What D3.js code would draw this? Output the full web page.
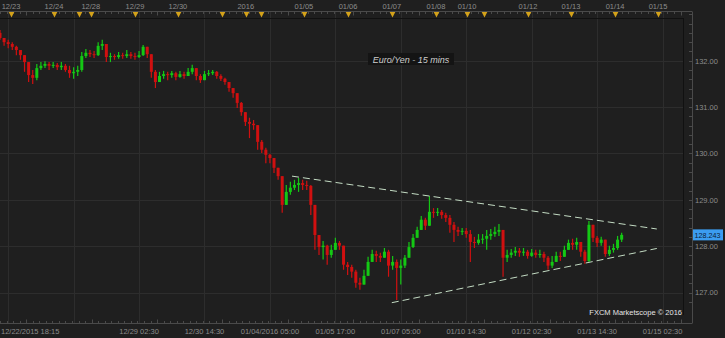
<!DOCTYPE html>
<html>
<head>
<meta charset="utf-8">
<script src="https://cdn.jsdelivr.net/npm/d3@7"></script>
<style>
  html, body { margin: 0; padding: 0; background: #1f1f1f; }
  svg { display: block; font-family: "Liberation Sans", Arial, sans-serif; }
</style>
</head>
<body>
<svg id="chart" width="725" height="338"></svg>
<script>
// EUR/JPY 15 min, aggregated into slots (one candle per slot)
const firstOpen = 132.6;
const closes = [
  132.49,132.40,132.36,132.30,132.23,132.12,131.97,131.69,131.63,131.84,
  131.89,131.93,131.89,131.91,131.86,131.89,131.80,131.73,131.76,131.80,
  132.10,132.17,132.14,132.12,132.32,132.36,132.08,132.10,132.08,132.12,
  132.10,132.14,132.10,132.08,132.12,132.30,132.14,131.76,131.54,131.67,
  131.71,131.69,131.73,131.65,131.71,131.67,131.76,131.84,131.67,131.58,
  131.71,131.73,131.76,131.67,131.61,131.54,131.41,131.30,131.09,130.89,
  130.68,130.64,130.61,130.25,130.08,129.97,129.90,129.69,129.51,128.89,
  129.17,129.26,129.32,129.36,129.32,129.30,128.89,128.24,127.98,128.01,
  127.81,127.92,128.07,128.01,127.60,127.55,127.45,127.21,127.17,127.36,
  127.66,127.83,127.79,127.75,127.88,127.58,127.66,127.53,127.58,127.75,
  127.98,128.18,128.35,128.57,128.44,128.74,128.72,128.74,128.67,128.61,
  128.46,128.35,128.31,128.33,128.26,128.09,128.07,128.14,128.16,128.22,
  128.26,128.31,128.35,127.75,127.81,127.86,127.90,127.86,127.88,127.79,
  127.86,127.81,127.83,127.75,127.58,127.66,127.79,127.77,127.92,128.07,
  128.03,128.09,127.88,127.68,128.46,128.18,128.07,128.14,127.83,127.92,
  127.96,128.14,128.243
];
const highs = [
  132.66,132.49,132.45,132.40,132.32,132.23,132.12,131.91,131.80,131.93,
  131.97,131.99,131.97,131.97,131.95,131.97,131.93,131.89,131.86,131.89,
  132.19,132.25,132.23,132.21,132.40,132.45,132.36,132.17,132.14,132.19,
  132.17,132.23,132.19,132.17,132.21,132.34,132.27,132.14,131.80,131.76,
  131.78,131.76,131.78,131.76,131.78,131.76,131.84,131.91,131.84,131.71,
  131.78,131.80,131.80,131.78,131.71,131.63,131.54,131.41,131.30,131.11,
  130.89,130.77,130.72,130.61,130.29,130.12,129.99,129.90,129.69,129.51,
  129.32,129.39,129.43,129.47,129.43,129.41,129.32,128.89,128.18,128.11,
  128.03,128.03,128.18,128.11,128.01,127.66,127.60,127.49,127.32,127.49,
  127.77,127.92,127.90,127.86,127.96,127.92,127.79,127.71,127.71,127.81,
  128.09,128.26,128.42,128.65,128.61,129.08,128.82,128.82,128.78,128.72,
  128.67,128.52,128.42,128.39,128.39,128.35,128.20,128.26,128.26,128.35,
  128.37,128.42,128.48,128.31,127.92,127.94,127.98,127.96,127.96,127.92,
  127.94,127.92,127.92,127.88,127.79,127.79,127.88,127.88,128.01,128.14,
  128.16,128.18,128.09,127.92,128.54,128.46,128.22,128.20,128.14,128.01,
  128.05,128.22,128.29
];
const lows = [
  132.45,132.32,132.27,132.23,132.12,132.02,131.76,131.54,131.50,131.58,
  131.80,131.84,131.80,131.84,131.80,131.80,131.76,131.63,131.61,131.67,
  131.76,132.06,132.08,132.06,132.10,132.23,131.97,131.97,132.02,132.04,
  132.04,132.06,132.04,132.02,132.06,132.10,132.06,131.63,131.41,131.54,
  131.61,131.58,131.63,131.58,131.63,131.61,131.67,131.71,131.58,131.52,
  131.58,131.67,131.69,131.61,131.56,131.48,131.33,131.20,130.98,130.81,
  130.59,130.33,130.51,130.08,130.01,129.79,129.79,129.58,129.43,128.72,
  128.93,129.11,129.21,129.17,129.21,129.21,128.67,127.92,127.81,127.71,
  127.60,127.75,127.96,127.92,127.49,127.38,127.32,127.10,127.06,127.19,
  127.38,127.66,127.66,127.66,127.77,127.34,127.49,126.84,127.17,127.53,
  127.75,127.96,128.18,128.35,128.35,128.44,128.61,128.65,128.59,128.52,
  128.29,128.09,128.22,128.24,128.18,127.66,127.96,128.03,128.05,127.92,
  128.14,128.20,128.22,127.34,127.66,127.75,127.79,127.77,127.79,127.73,
  127.77,127.75,127.75,127.66,127.49,127.53,127.66,127.68,127.79,127.92,
  127.92,127.92,127.77,127.62,127.66,128.09,127.98,128.01,127.77,127.79,
  127.86,127.92,128.09
];
const lastPrice = 128.243;

const priceTicks = [127, 128, 129, 130, 131, 132];
const gridSlots = [2, 18, 34, 50, 66, 82, 98, 114, 130, 146, 162];
const gridLabels = ["", "", "12/29 02:30", "12/30 14:30", "01/04/2016 05:00", "01/05 17:00",
  "01/07 05:00", "01/10 14:30", "01/12 02:30", "01/13 14:30", "01/15 02:30"];
const startLabel = "12/22/2015 18:15";
const daySlots = [2.7, 13.2, 19.3, 22.2, 33.0, 43.5, 54.3, 60.1, 63.8, 74.3, 85.1, 95.8,
  106.6, 114.2, 118.3, 129.1, 139.6, 150.4, 160.9];
const dayLabels = ["12/23", "12/24", "", "12/28", "12/29", "12/30", "", "2016", "", "01/05",
  "01/06", "01/07", "01/08", "01/10", "", "01/12", "01/13", "01/14", "01/15"];

// trend lines (slot, price)
const upperSlots = [71.4, 160.6], upperPrices = [129.51, 128.37];
const lowerSlots = [95.8, 160.6], lowerPrices = [126.78, 127.95];

const W = 725, H = 338;
const plot = { left: 0, right: 683, top: 18, bottom: 315 };
const axisX = 692, topLine = 11.5, bottomLine = 323.5;

const svg = d3.select("#chart");
const x = d3.scaleLinear().domain([0, 167]).range([plot.left, plot.right]);
const y = d3.scaleLinear().domain([127, 132]).range([292.5, 60.7]);

svg.append("rect").attr("width", W).attr("height", H).attr("fill", "#1f1f1f");

svg.append("defs").append("clipPath").attr("id", "plotclip")
  .append("rect").attr("x", plot.left).attr("y", plot.top)
  .attr("width", plot.right - plot.left).attr("height", plot.bottom - plot.top);

// grid
const grid = svg.append("g").attr("stroke", "#2d2d2d").attr("stroke-width", 1);
grid.selectAll(".vg").data(gridSlots).join("line")
  .attr("x1", d => Math.round(x(d)) + 0.5).attr("x2", d => Math.round(x(d)) + 0.5)
  .attr("y1", topLine).attr("y2", bottomLine);
grid.selectAll(".hg").data(priceTicks).join("line")
  .attr("x1", plot.left).attr("x2", plot.right)
  .attr("y1", d => Math.round(y(d)) + 0.5).attr("y2", d => Math.round(y(d)) + 0.5);

// frame lines
const frame = svg.append("g").attr("stroke", "#4a4a4a").attr("fill", "none");
frame.append("line").attr("x1", 0).attr("x2", axisX).attr("y1", topLine).attr("y2", topLine);
frame.append("line").attr("x1", 0).attr("x2", axisX).attr("y1", bottomLine).attr("y2", bottomLine);
frame.append("line").attr("x1", axisX + 0.5).attr("x2", axisX + 0.5).attr("y1", topLine).attr("y2", bottomLine);
svg.append("line").attr("stroke", "#111").attr("x1", plot.right + 0.5).attr("x2", plot.right + 0.5)
  .attr("y1", plot.top).attr("y2", plot.bottom);
svg.append("line").attr("stroke", "#111").attr("x1", 0).attr("x2", plot.right + 0.5)
  .attr("y1", plot.top + 0.5).attr("y2", plot.top + 0.5);

// minor ticks on time axes
const minor = d3.range(0, 167, 1.6);
const ticks = svg.append("g").attr("stroke", "#4a4a4a");
ticks.selectAll(".tt").data(minor).join("line")
  .attr("x1", d => Math.round(x(d)) + 0.5).attr("x2", d => Math.round(x(d)) + 0.5)
  .attr("y1", topLine).attr("y2", (d, i) => topLine + (i % 10 === 4 ? 4 : 2.5));
ticks.selectAll(".bt").data(minor).join("line")
  .attr("x1", d => Math.round(x(d)) + 0.5).attr("x2", d => Math.round(x(d)) + 0.5)
  .attr("y1", bottomLine).attr("y2", (d, i) => bottomLine - (i % 10 === 4 ? 4 : 2.5));

// minor ticks on price axis
const pMinor = d3.range(126.8, 133.01, 0.2);
ticks.selectAll(".pt").data(pMinor).join("line")
  .attr("x1", axisX - 3).attr("x2", axisX)
  .attr("y1", d => Math.round(y(d)) + 0.5).attr("y2", d => Math.round(y(d)) + 0.5);

// candles
const candles = closes.map((c, i) => {
  const o = i === 0 ? firstOpen : closes[i - 1];
  return { i, o, c, h: Math.max(highs[i], o, c), l: Math.min(lows[i], o, c) };
});
const cg = svg.append("g").attr("clip-path", "url(#plotclip)");
const color = d => (d.c >= d.o ? "#14c814" : "#d01010");
const bar = cg.selectAll(".candle").data(candles).join("g").attr("class", "candle");
bar.append("line")
  .attr("x1", d => x(d.i)).attr("x2", d => x(d.i))
  .attr("y1", d => y(d.h)).attr("y2", d => y(d.l))
  .attr("stroke", color).attr("stroke-width", 1.2);
bar.append("rect")
  .attr("x", d => x(d.i) - 1.5).attr("width", 3)
  .attr("y", d => y(Math.max(d.o, d.c)))
  .attr("height", d => Math.max(1, Math.abs(y(d.o) - y(d.c))))
  .attr("fill", color);

// trend lines
const tl = svg.append("g").attr("stroke", "#c4dcc4").attr("stroke-width", 1)
  .attr("stroke-dasharray", "7,4");
tl.append("line")
  .attr("x1", x(upperSlots[0])).attr("y1", y(upperPrices[0]))
  .attr("x2", x(upperSlots[1])).attr("y2", y(upperPrices[1]));
tl.append("line")
  .attr("x1", x(lowerSlots[0])).attr("y1", y(lowerPrices[0]))
  .attr("x2", x(lowerSlots[1])).attr("y2", y(lowerPrices[1]));

// price axis labels
const yAxis = d3.axisRight(y).tickValues(priceTicks).tickFormat(d3.format(".2f"))
  .tickSize(0).tickPadding(0);
const ya = svg.append("g").attr("transform", `translate(${axisX + 3},0)`).call(yAxis);
ya.select(".domain").remove();
ya.selectAll("text").attr("fill", "#8c8c8c").style("font-size", "7.5px");

// time labels (bottom)
const lab = svg.append("g").attr("fill", "#8c8c8c").style("font-size", "7.5px");
lab.selectAll(".bl").data(gridSlots.map((s, i) => ({ s, t: gridLabels[i] })).filter(d => d.t))
  .join("text").attr("x", d => x(d.s)).attr("y", 334).attr("text-anchor", "middle").text(d => d.t);
lab.append("text").attr("x", 1).attr("y", 334).text(startLabel);

// day labels and markers (top)
const days = daySlots.map((s, i) => ({ s, t: dayLabels[i] }));
lab.selectAll(".tl").data(days.filter(d => d.t)).join("text")
  .attr("x", d => x(d.s)).attr("y", 8.5).attr("text-anchor", "middle").text(d => d.t);
svg.append("g").selectAll("path").data(days).join("path")
  .attr("d", d => { const cx = Math.round(x(d.s)) + 0.5; return `M${cx - 2.8},12 L${cx + 2.8},12 L${cx},17.5 Z`; })
  .attr("fill", "#d4a21a");

// title box
const tg = svg.append("g");
tg.append("rect").attr("x", 368).attr("y", 53).attr("width", 86).attr("height", 12).attr("fill", "#141414");
tg.append("text").attr("x", 411).attr("y", 62.5).attr("text-anchor", "middle")
  .attr("fill", "#cfcfcf").style("font-size", "9px").style("font-style", "italic")
  .text("Euro/Yen - 15 mins");

// copyright
svg.append("text").attr("x", 682).attr("y", 315).attr("text-anchor", "end")
  .attr("fill", "#e4e4e4").style("font-size", "7.5px").text("FXCM Marketscope \u00a9 2016");

// last price marker
const ly = y(lastPrice);
svg.append("rect").attr("x", axisX + 1).attr("y", ly - 5.5).attr("width", 30).attr("height", 11).attr("fill", "#3b9cf0");
svg.append("text").attr("x", axisX + 2.5).attr("y", ly + 3).attr("fill", "#0d2236")
  .style("font-size", "7.2px").text(lastPrice.toFixed(3));
</script>
</body>
</html>
